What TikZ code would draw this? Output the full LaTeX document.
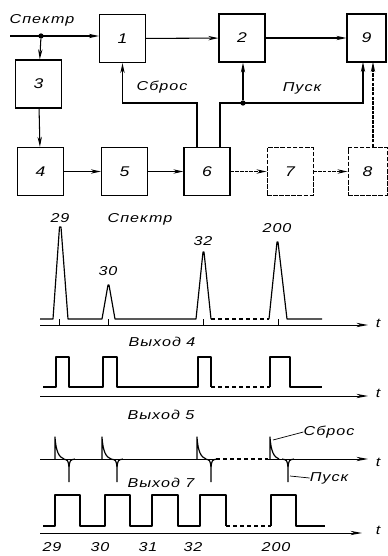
\documentclass[tikz,border=0pt]{standalone}
\usepackage{fontspec}
\newfontfamily\labfont[FakeStretch=1.25,LetterSpace=8]{Liberation Sans}
\usepackage{tikz}
\usetikzlibrary{arrows.meta,positioning,calc}

\begin{document}
\begin{tikzpicture}[
  x=0.03cm, y=-0.03cm,
  blk/.style={rectangle, draw, line width=1.1pt, minimum width=1.38cm, minimum height=1.44cm, font=\labfont\itshape\fontsize{12}{14}\selectfont},
  dblk/.style={blk, line width=0.8pt, dash pattern=on 4pt off 1.2pt},
  lab/.style={inner sep=0pt, font=\labfont\itshape\fontsize{11}{13}\selectfont},
  arr/.style={-{Stealth[length=3mm, width=1.3mm]}, line width=0.9pt},
  darr/.style={arr, dash pattern=on 3pt off 1pt},
  wave/.style={line width=1pt, line join=round},
  axis/.style={-{Stealth[length=3.5mm, width=1.3mm]}, line width=0.8pt},
  dot/.style={circle, fill, inner sep=1.6pt},
]
\useasboundingbox (0,0) rectangle (387,556);

% block diagram
\node[blk] (b1) at (122.5,38.5) {1};
\node[blk] (b2) at (242,38) {2};
\node[blk, minimum width=1.17cm] (b9) at (366.5,38) {9};
\node[blk] (b3) at (38.5,84) {3};
\node[blk] (b4) at (40.5,171.5) {4};
\node[blk] (b5) at (124.5,171.5) {5};
\node[blk] (b6) at (207,171.5) {6};
\node[dblk] (b7) at (290,171.5) {7};
\node[dblk, minimum width=1.17cm] (b8) at (367.5,171.5) {8};

\coordinate (in) at (10,36);
\node[dot] (sp) at (41,36) {};
\node[lab] (spname) at (42,20) {Спектр};
\draw[arr] (in) -- (b1.west |- in);
\draw[arr] (sp) -- (b3);
\draw[arr] (b3) -- (b4);
\draw[arr] (b1) -- (b2);
\draw[arr] (b2) -- (b9.west |- b2);
\draw[arr] (b4) -- (b5);
\draw[arr] (b5) -- (b6);
\draw[darr] (b6) -- (b7);
\draw[darr] (b7) -- (b8);

% reset and start lines
\coordinate (rs) at (197,103);
\coordinate (st) at (220,103);
\coordinate (s9) at (363,62);
\coordinate (q9) at (373,62);
\node[dot] (pd) at (243,103) {};
\draw[arr] (b6.north -| rs) -- (rs) -| (b1.south);
\draw[arr] (b6.north -| st) -- (st) -| (s9);
\draw[arr] (pd) -- (pd |- b2.south);
\draw[darr] (b8.north -| q9) -- (q9);
\node[lab] (rsname) at (162,87) {Сброс};
\node[lab] (stname) at (302,88) {Пуск};

% spectrum
\node[lab] (n29) at (60,218) {29};
\node[lab] (spec) at (140,219) {Спектр};
\node[lab] (n30) at (108,271) {30};
\node[lab] (n32) at (203,241) {32};
\node[lab] (n200) at (277,228) {200};
\draw[wave] (40,319) -- (53,319) -- (59.5,227) -- (61,227) -- (68,319) -- (102,319) -- (108,285) -- (109,285) -- (115,319)
  -- (196,319) -- (203,252) -- (204,252) -- (211,319);
\draw[wave, dashed] (211,319) -- (269,319);
\draw[wave] (269,319) -- (277,242) -- (278,242) -- (287,319) -- (322,319);
\foreach \x in {59,108,203,278}
  \draw[line width=0.6pt] (\x,319) -- (\x,325);
\draw[axis] (40,325) -- (368,325);
\node[lab] (t1) at (378,323) {t};

% output 4
\node[lab] (o4) at (162,342) {Выход 4};
\draw[wave] (43,387) -- (56,387) -- (56,357) -- (69,357) -- (69,387) -- (103,387) -- (103,357) -- (117,357) -- (117,387)
  -- (198,387) -- (198,357) -- (211,357) -- (211,387);
\draw[wave, dashed] (211,387) -- (270,387);
\draw[wave] (270,387) -- (270,357) -- (290,357) -- (290,387) -- (322,387);
\draw[axis] (40,396) -- (368,396);
\node[lab] (t2) at (378,393) {t};

% output 5
\node[lab] (o5) at (161,415) {Выход 5};
\draw[axis] (40,459) -- (368,459);
\foreach \a/\b in {55/69,102/117,197/211,270/288}{
  \draw[wave] (\a,459) -- (\a,437) .. controls (\a+1,452) and (\a+4,457) .. (\a+9,459);
  \draw[wave] (\b-6,459) .. controls (\b-1,460) .. (\b,467) -- (\b,482);
  \draw[wave] (\b,467) .. controls (\b+1,460) .. (\b+6,459);
}
\draw[line width=1.2pt, white] (216,459) -- (268,459);
\draw[wave, dashed] (216,459) -- (268,459);
\coordinate (rsl) at (273,440);
\coordinate (stl) at (290,476);
\node[lab] (rsname2) at (329,432) {Сброс};
\node[lab] (stname2) at (329,478) {Пуск};
\draw[line width=0.6pt] (rsl) -- (rsname2.west);
\draw[line width=0.6pt] (stl) -- (stname2.west);
\node[lab] (t3) at (378,462) {t};

% output 7
\node[lab] (o7) at (161,483) {Выход 7};
\draw[wave] (43,526) -- (55,526) -- (55,495) -- (80,495) -- (80,526) -- (105,526) -- (105,495) -- (130,495) -- (130,526)
  -- (152,526) -- (152,495) -- (178,495) -- (178,526) -- (200,526) -- (200,495) -- (226,495) -- (226,526);
\draw[wave, dashed] (226,526) -- (271,526);
\draw[wave] (271,526) -- (271,495) -- (296,495) -- (296,526) -- (325,526);
\draw[axis] (40,533) -- (362,533);
\node[lab] (t4) at (378,530) {t};
\foreach \x/\n in {52/29,100/30,148/31,193/32,276/200}
  \node[lab] (c\n) at (\x,547) {\n};
\end{tikzpicture}
\end{document}
